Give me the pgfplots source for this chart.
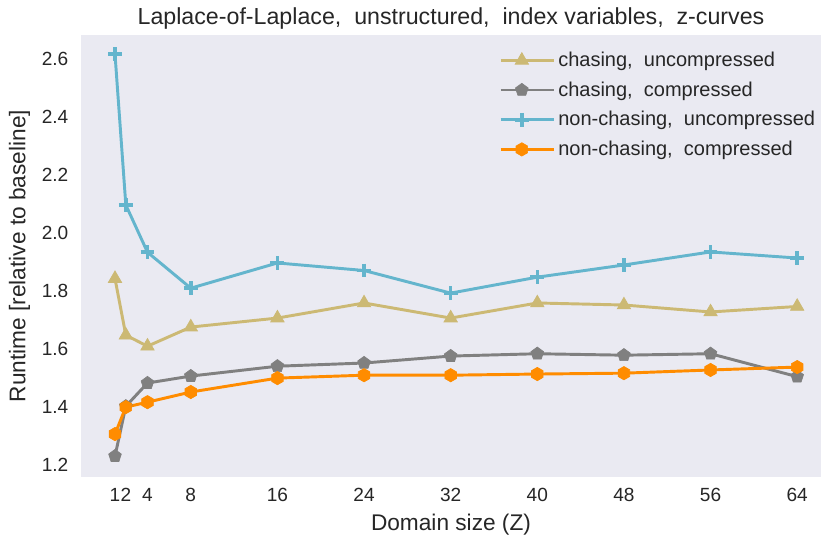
\documentclass[border=0pt]{standalone}
\usepackage{pgfplots}
\pgfplotsset{compat=1.18}
\usepackage{fontspec}
\setmainfont{Liberation Sans}
\usetikzlibrary{plotmarks}
\definecolor{bgc}{HTML}{EAEAF2}
\definecolor{ctan}{HTML}{CCB974}
\definecolor{cgray}{HTML}{808080}
\definecolor{ccyan}{HTML}{64B5CD}
\definecolor{corange}{HTML}{FF8C00}
\pgfdeclareplotmark{hexagon*}{%
  \pgfpathmoveto{\pgfqpointpolar{90}{\pgfplotmarksize}}%
  \pgfpathlineto{\pgfqpointpolar{150}{\pgfplotmarksize}}%
  \pgfpathlineto{\pgfqpointpolar{210}{\pgfplotmarksize}}%
  \pgfpathlineto{\pgfqpointpolar{270}{\pgfplotmarksize}}%
  \pgfpathlineto{\pgfqpointpolar{330}{\pgfplotmarksize}}%
  \pgfpathlineto{\pgfqpointpolar{30}{\pgfplotmarksize}}%
  \pgfpathclose\pgfusepathqfillstroke}
\begin{document}
\begin{tikzpicture}
\begin{axis}[
  at={(0,0)}, anchor=south west,
  scale only axis, width=555pt, height=331.5pt,
  xmin=-2.14, xmax=66.2, ymin=1.159, ymax=2.683,
  axis background/.style={fill=bgc},
  axis line style={draw=none},
  major tick length=0pt,
  xtick={1,2,4,8,16,24,32,40,48,56,64},
  ytick={1.2,1.4,1.6,1.8,2.0,2.2,2.4,2.6},
  yticklabel style={/pgf/number format/fixed,/pgf/number format/fixed zerofill,/pgf/number format/precision=1, xshift=-6pt},
  xticklabel style={yshift=-5pt},
  /pgf/number format/assume math mode=true,
  tick label style={font=\fontsize{14.3pt}{16pt}\selectfont, color=black!85},
  label style={font=\fontsize{17pt}{19pt}\selectfont, color=black!85},
  xlabel={Domain size (Z)},
  ylabel={Runtime [relative to baseline]},
  xlabel style={yshift=-2pt},
  ylabel style={yshift=2pt},
  title={Laplace-of-Laplace,\ \ unstructured,\ \ index variables,\ \ z-curves},
  title style={font=\fontsize{17.4pt}{19pt}\selectfont, color=black!85, yshift=-5.5pt},
  every axis plot/.append style={line width=2.2pt},
  legend style={draw=none, fill=none, at={(rel axis cs:0.565,0.968)}, anchor=north west,
    font=\fontsize{15pt}{17pt}\selectfont, text=black!85, row sep=5.9pt, inner sep=0pt},
  legend cell align=left,
  legend image code/.code={\draw[mark repeat=2,mark phase=2] plot coordinates {(0pt,0pt) (15.75pt,0pt) (31.5pt,0pt)};\path (0pt,0pt) -- (40pt,0pt);},
]
\addplot[color=ctan, mark=triangle*, mark size=5.8pt, mark options={line width=0.5pt}] coordinates {
(1,1.843) (2,1.648) (4,1.610) (8,1.676) (16,1.707) (24,1.759) (32,1.707) (40,1.759) (48,1.752) (56,1.728) (64,1.747)};
\addlegendentry{chasing,\ \ uncompressed}
\addplot[color=cgray, mark=pentagon*, mark size=5pt, mark options={line width=0.5pt}] coordinates {
(1,1.231) (2,1.403) (4,1.483) (8,1.507) (16,1.541) (24,1.552) (32,1.576) (40,1.584) (48,1.579) (56,1.584) (64,1.505)};
\addlegendentry{chasing,\ \ compressed}
\addplot[color=ccyan, mark=+, mark size=5.2pt, mark options={line width=2.7pt}] coordinates {
(1,2.617) (2,2.097) (4,1.934) (8,1.810) (16,1.897) (24,1.871) (32,1.793) (40,1.848) (48,1.890) (56,1.935) (64,1.914)};
\addlegendentry{non-chasing,\ \ uncompressed}
\addplot[color=corange, mark=hexagon*, mark size=5pt, mark options={line width=0.5pt}] coordinates {
(1,1.307) (2,1.400) (4,1.417) (8,1.452) (16,1.500) (24,1.510) (32,1.510) (40,1.514) (48,1.517) (56,1.528) (64,1.538)};
\addlegendentry{non-chasing,\ \ compressed}
\end{axis}
\pgfresetboundingbox
\useasboundingbox (-60.75pt,-49.5pt) rectangle (555pt,357.75pt);
\end{tikzpicture}
\end{document}
